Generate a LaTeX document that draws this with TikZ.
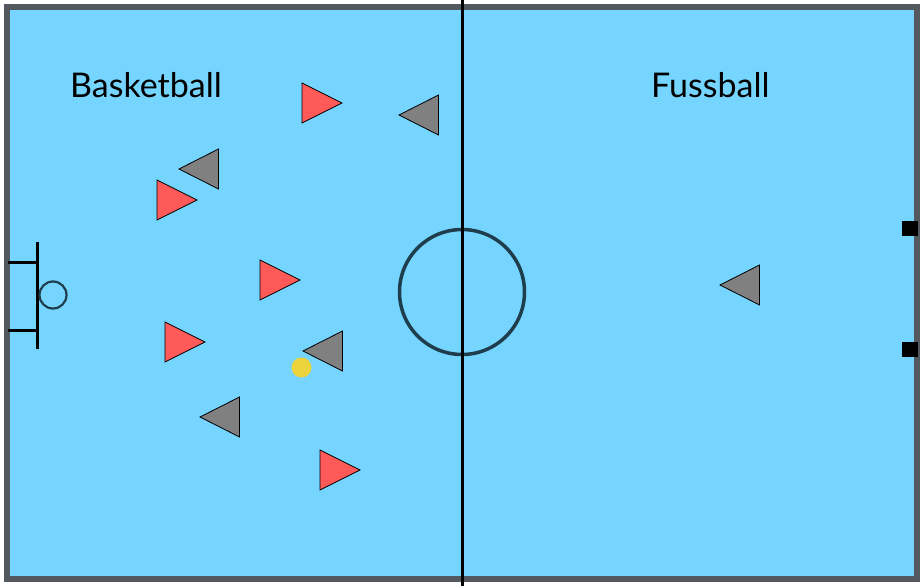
\documentclass[tikz,border=0pt]{standalone}
\usepackage{fontspec}
\setmainfont{Lato}
\definecolor{field}{RGB}{118,213,255}
\definecolor{rim}{RGB}{84,89,95}
\definecolor{redtri}{RGB}{255,90,90}
\definecolor{graytri}{RGB}{128,128,128}
\definecolor{ring}{RGB}{30,62,78}
\definecolor{ballc}{RGB}{236,210,60}
\begin{document}
\begin{tikzpicture}[x=1pt,y=-1pt,
  redp/.style={fill=redtri,draw=black,line width=0.8pt,line join=miter},
  grayp/.style={fill=graytri,draw=black,line width=0.8pt,line join=miter},
  label/.style={font=\fontsize{34}{40}\selectfont,text=black,inner sep=0pt,anchor=base west}]
\useasboundingbox (0,0) rectangle (924,586);
\fill[white] (0,0) rectangle (924,586);
% field
\draw[fill=field,draw=rim,line width=6pt] (7,7) rectangle (917,579);
% center circle
\draw[ring,line width=3.5pt] (462,292) circle (62.5);
% center line
\draw[black,line width=3.5pt] (462.5,0) -- (462.5,586);
% left goal
\draw[black,line width=3pt] (37,242) -- (37,349);
\draw[black,line width=3pt] (8,262) -- (37,262);
\draw[black,line width=3pt] (8,330) -- (37,330);
\draw[ring,line width=2.2pt] (53,295) circle (13.5);
% right posts
\fill[black] (902,221) rectangle (918,236);
\fill[black] (902,342) rectangle (918,357);
% labels
\node[label] (bb) at (70,97) {Basketball};
\node[label] (fb) at (651,97) {Fussball};
% red triangles (pointing right)
\foreach \x/\y in {302/83,157/180,260/260,165/322,320/450}
  \draw[redp] (\x,\y) -- (\x+40,\y+20) -- (\x,\y+40) -- cycle;
% gray triangles (pointing left)
\foreach \x/\y in {399/95,179/149,303/331,200/397,720/265}
  \draw[grayp] (\x,\y+20) -- (\x+39.5,\y) -- (\x+39.5,\y+40) -- cycle;
% ball
\fill[ballc] (301.5,367.5) circle (10);
\end{tikzpicture}
\end{document}
